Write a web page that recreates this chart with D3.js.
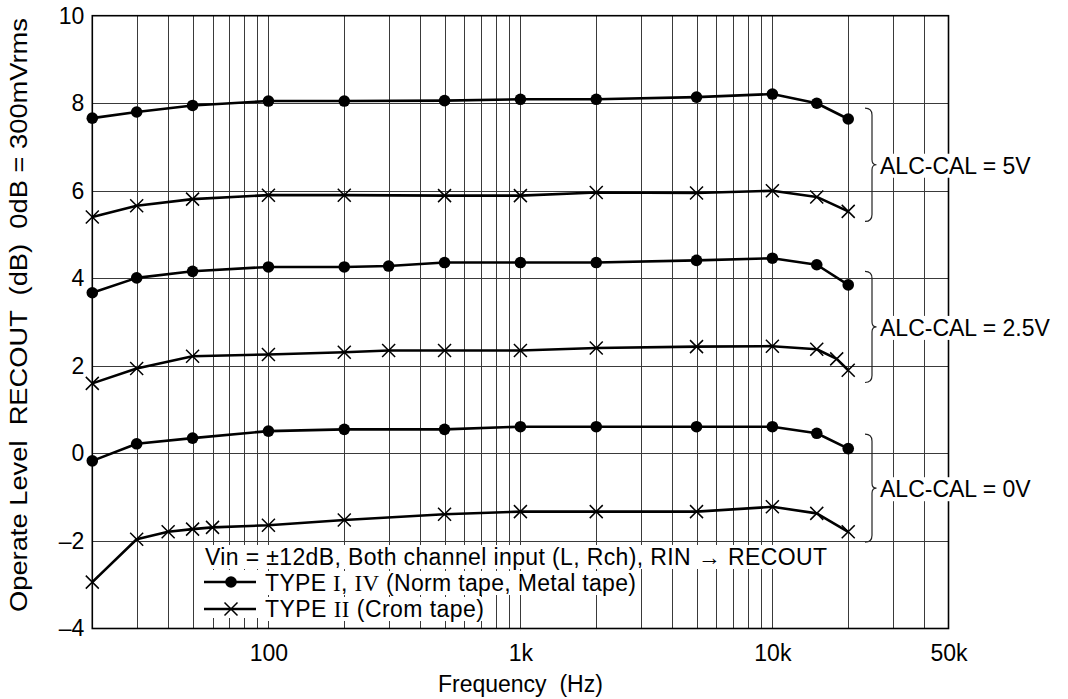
<!DOCTYPE html>
<html><head><meta charset="utf-8">
<script src="https://cdn.jsdelivr.net/npm/d3@7"></script>
<style>
body{margin:0;background:#fff}
svg{display:block}
text{font-family:"Liberation Sans", Arial, Helvetica, sans-serif; fill:#000; white-space:pre;}
</style>
</head><body><svg id="c" width="1068" height="699"></svg>
<script>
// ---- data ----
const freq5VType1 = [20,30,50,100,200,500,1000,2000,5000,10000,15000,20000];
const level5VType1 = [7.66,7.80,7.95,8.05,8.05,8.06,8.09,8.09,8.14,8.21,8.00,7.64];
const freq5VType2 = [20,30,50,100,200,500,1000,2000,5000,10000,15000,20000];
const level5VType2 = [5.40,5.66,5.81,5.90,5.90,5.89,5.89,5.96,5.95,6.00,5.86,5.53];
const freq25VType1 = [20,30,50,100,200,300,500,1000,2000,5000,10000,15000,20000];
const level25VType1 = [3.67,4.01,4.16,4.26,4.26,4.28,4.36,4.36,4.36,4.41,4.46,4.31,3.85];
const freq25VType2 = [20,30,50,100,200,300,500,1000,2000,5000,10000,15000,18000,20000];
const level25VType2 = [1.60,1.94,2.22,2.26,2.31,2.35,2.35,2.35,2.41,2.44,2.45,2.38,2.16,1.90];
const freq0VType1 = [20,30,50,100,200,500,1000,2000,5000,10000,15000,20000];
const level0VType1 = [-0.17,0.22,0.35,0.51,0.55,0.55,0.61,0.61,0.61,0.61,0.46,0.11];
const freq0VType2 = [20,30,40,50,60,100,200,500,1000,2000,5000,10000,15000,20000];
const level0VType2 = [-2.94,-1.96,-1.79,-1.73,-1.69,-1.64,-1.52,-1.39,-1.33,-1.33,-1.33,-1.22,-1.37,-1.79];

const xTickValues = [100,1000,10000,50000];
const xTickLabels = ["100","1k","10k","50k"];
const yTickValues = [10,8,6,4,2,0,-2,-4];
const yTickLabels = ["10","8","6","4","2","0","\u20132","\u20134"];

const alcLabels = ["ALC-CAL = 5V","ALC-CAL = 2.5V","ALC-CAL = 0V"];
const braceTop = [7.89,4.16,0.44];
const braceBottom = [5.30,1.62,-2.03];

const legendTitle = "Vin = \u00b112dB, Both channel input (L, Rch), RIN \u2192 RECOUT";
const xTitle = "Frequency  (Hz)";
const yTitle = "Operate Level  RECOUT  (dB)  0dB = 300mVrms";

// ---- layout ----
const L = 92.3, R = 948.5, T = 15.7, B = 628.5;
const svg = d3.select("#c");
const x = d3.scaleLog().domain([20,50000]).range([L,R]);
const y = d3.scaleLinear().domain([-4,10]).range([B,T]);

// grid
const minor = [];
for (let e = 1; e <= 4; e++) for (let m = 1; m <= 9; m++) { const v = m*Math.pow(10,e); if (v > 20 && v < 50000) minor.push(v); }
const grid = svg.append("g").attr("stroke","#3a3a3a").attr("stroke-width",1);
grid.selectAll("line.v").data(minor).join("line")
  .attr("x1",d=>Math.round(x(d))+0.5).attr("x2",d=>Math.round(x(d))+0.5)
  .attr("y1",T).attr("y2",B);
grid.selectAll("line.h").data([8,6,4,2,0,-2]).join("line")
  .attr("y1",d=>Math.round(y(d))+0.5).attr("y2",d=>Math.round(y(d))+0.5)
  .attr("x1",L).attr("x2",R);

// frame
svg.append("rect").attr("x",L).attr("y",T).attr("width",R-L).attr("height",B-T)
  .attr("fill","none").attr("stroke","#000").attr("stroke-width",1.6);

// axes ticks labels
const xAxis = d3.axisBottom(x).tickValues(xTickValues).tickFormat((d,i)=>xTickLabels[i]).tickSize(0).tickPadding(16);
const gx = svg.append("g").attr("transform",`translate(0,${B})`).call(xAxis);
gx.select(".domain").remove();
gx.selectAll("text").attr("font-size",23).attr("font-family",'"Liberation Sans", Arial, sans-serif').attr("fill","#000");

const yAxis = d3.axisLeft(y).tickValues(yTickValues).tickFormat((d,i)=>yTickLabels[i]).tickSize(0).tickPadding(8);
const gy = svg.append("g").attr("transform",`translate(${L},0)`).call(yAxis);
gy.select(".domain").remove();
gy.selectAll("text").attr("font-size",23).attr("font-family",'"Liberation Sans", Arial, sans-serif').attr("fill","#000");

svg.append("text").attr("x",x(1000)).attr("y",692).attr("text-anchor","middle")
  .attr("font-size",23).text(xTitle);
svg.append("text").attr("transform","translate(27,315) rotate(-90)").attr("text-anchor","middle")
  .attr("font-size",23).attr("textLength",594).attr("lengthAdjust","spacingAndGlyphs").text(yTitle);

// series
const line = d3.line().x(d=>x(d[0])).y(d=>y(d[1]));
const series = [
  {f:freq5VType1, v:level5VType1, m:"dot"},
  {f:freq5VType2, v:level5VType2, m:"x"},
  {f:freq25VType1, v:level25VType1, m:"dot"},
  {f:freq25VType2, v:level25VType2, m:"x"},
  {f:freq0VType1, v:level0VType1, m:"dot"},
  {f:freq0VType2, v:level0VType2, m:"x"}
];
function drawX(g, cx, cy, s){
  g.append("path").attr("d",`M${cx-s},${cy-s}L${cx+s},${cy+s}M${cx-s},${cy+s}L${cx+s},${cy-s}`)
   .attr("stroke","#000").attr("stroke-width",1.5).attr("fill","none");
}
const gs = svg.append("g");
series.forEach(s=>{
  const pts = s.f.map((f,i)=>[f,s.v[i]]);
  gs.append("path").attr("d",line(pts)).attr("fill","none").attr("stroke","#000").attr("stroke-width",2.6).attr("stroke-linejoin","round");
  pts.forEach(p=>{
    if (s.m==="dot") gs.append("circle").attr("cx",x(p[0])).attr("cy",y(p[1])).attr("r",5.8).attr("fill","#000");
    else drawX(gs, x(p[0]), y(p[1]), 6.5);
  });
});

// text with white background helper
function bgText(g, t){
  const b = t.node().getBBox();
  g.insert("rect", () => t.node()).attr("x",b.x-2).attr("y",b.y+1).attr("width",b.width+4).attr("height",b.height-2).attr("fill","#fff");
}

// braces & ALC labels
const ga = svg.append("g");
alcLabels.forEach((lab,i)=>{
  const yt = y(braceTop[i]), yb = y(braceBottom[i]), ym = (yt+yb)/2;
  const x0 = 865, xm = 872, xt = 876.5;
  ga.append("path").attr("d",
    `M${x0},${yt} Q${xm},${yt} ${xm},${yt+7} L${xm},${ym-5} Q${xm},${ym} ${xt},${ym} Q${xm},${ym} ${xm},${ym+5} L${xm},${yb-7} Q${xm},${yb} ${x0},${yb}`)
    .attr("fill","none").attr("stroke","#222").attr("stroke-width",1.2);
  const t = ga.append("text").attr("x",880).attr("y",ym+9).attr("font-size",23).text(lab);
  bgText(ga, t);
});

// legend
const gl = svg.append("g");
const t1 = gl.append("text").attr("x",205).attr("y",565).attr("font-size",23)
  .attr("textLength",622).attr("lengthAdjust","spacing").text(legendTitle);
bgText(gl, t1);
const t2 = gl.append("text").attr("x",265).attr("y",591).attr("font-size",23)
  .attr("textLength",371).attr("lengthAdjust","spacing");
t2.append("tspan").text("TYPE ");
t2.append("tspan").attr("font-family",'"Liberation Serif", "Times New Roman", serif').text("I");
t2.append("tspan").text(", ");
t2.append("tspan").attr("font-family",'"Liberation Serif", "Times New Roman", serif').text("IV");
t2.append("tspan").text(" (Norm tape, Metal tape)");
bgText(gl, t2);
const t3 = gl.append("text").attr("x",265).attr("y",617).attr("font-size",23)
  .attr("textLength",219).attr("lengthAdjust","spacing");
t3.append("tspan").text("TYPE ");
t3.append("tspan").attr("font-family",'"Liberation Serif", "Times New Roman", serif').text("II");
t3.append("tspan").text(" (Crom tape)");
bgText(gl, t3);
// legend sample lines
gl.insert("rect", () => t2.node()).attr("x",200).attr("y",570).attr("width",62).attr("height",48).attr("fill","#fff");
gl.append("line").attr("x1",204).attr("x2",256).attr("y1",582).attr("y2",582).attr("stroke","#000").attr("stroke-width",2.6);
gl.append("circle").attr("cx",231).attr("cy",582).attr("r",5.8).attr("fill","#000");
gl.append("line").attr("x1",204).attr("x2",256).attr("y1",609).attr("y2",609).attr("stroke","#000").attr("stroke-width",2.6);
drawX(gl, 231, 609, 6.5);
</script>
</body></html>
